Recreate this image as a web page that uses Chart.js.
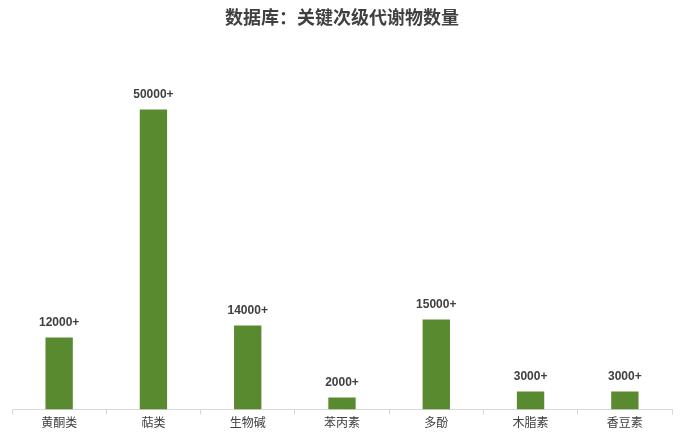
<!DOCTYPE html>
<html>
<head>
<meta charset="utf-8">
<script src="https://cdn.jsdelivr.net/npm/chart.js@4.4.1/dist/chart.umd.min.js"></script>
<style>
  html, body { margin: 0; padding: 0; background: #fff; }
  #wrap { width: 686px; height: 437px; }
</style>
</head>
<body>
<div id="wrap"><canvas id="chart"></canvas></div>
<script>
const categories = ['黄酮类', '萜类', '生物碱', '苯丙素', '多酚', '木脂素', '香豆素'];
const counts = [12000, 50000, 14000, 2000, 15000, 3000, 3000];
const countLabels = ['12000+', '50000+', '14000+', '2000+', '15000+', '3000+', '3000+'];

// draws the "12000+" labels above each bar
const barLabels = {
   id: 'barLabels',
   afterDatasetsDraw(chart) {
      const ctx = chart.ctx;
      const meta = chart.getDatasetMeta(0);
      ctx.save();
      ctx.font = 'bold 12px "Liberation Sans", Arial, sans-serif';
      ctx.fillStyle = '#404040';
      ctx.textAlign = 'center';
      ctx.textBaseline = 'middle';
      meta.data.forEach((bar, i) => {
         ctx.fillText(countLabels[i], bar.x, bar.y - 15);
      });
      ctx.restore();
   }
};

new Chart(document.getElementById('chart'), {
   type: 'bar',
   data: {
      labels: categories,
      datasets: [{
         data: counts,
         backgroundColor: '#5a8a30',
         categoryPercentage: 1,
         barPercentage: 0.29
      }]
   },
   options: {
      responsive: true,
      maintainAspectRatio: false,
      animation: false,
      layout: {
         padding: { left: 12, right: 14, top: 0, bottom: 6 }
      },
      scales: {
         y: {
            display: false,
            min: 0,
            max: 60000
         },
         x: {
            offset: true,
            grid: {
               offset: true,
               drawOnChartArea: false,
               drawTicks: true,
               tickLength: 5,
               color: '#d9d9d9'
            },
            border: { color: '#d9d9d9' },
            ticks: {
               color: '#404040',
               font: { family: '"Noto Sans CJK SC", sans-serif', size: 12 },
               padding: 1
            }
         }
      },
      plugins: {
         legend: { display: false },
         tooltip: { enabled: false },
         title: {
            display: true,
            text: '数据库：关键次级代谢物数量',
            color: '#404040',
            font: { family: '"Noto Sans CJK SC", sans-serif', size: 18, weight: 'bold' },
            padding: { top: 6, bottom: 22 }
         }
      }
   },
   plugins: [barLabels]
});
</script>
</body>
</html>
